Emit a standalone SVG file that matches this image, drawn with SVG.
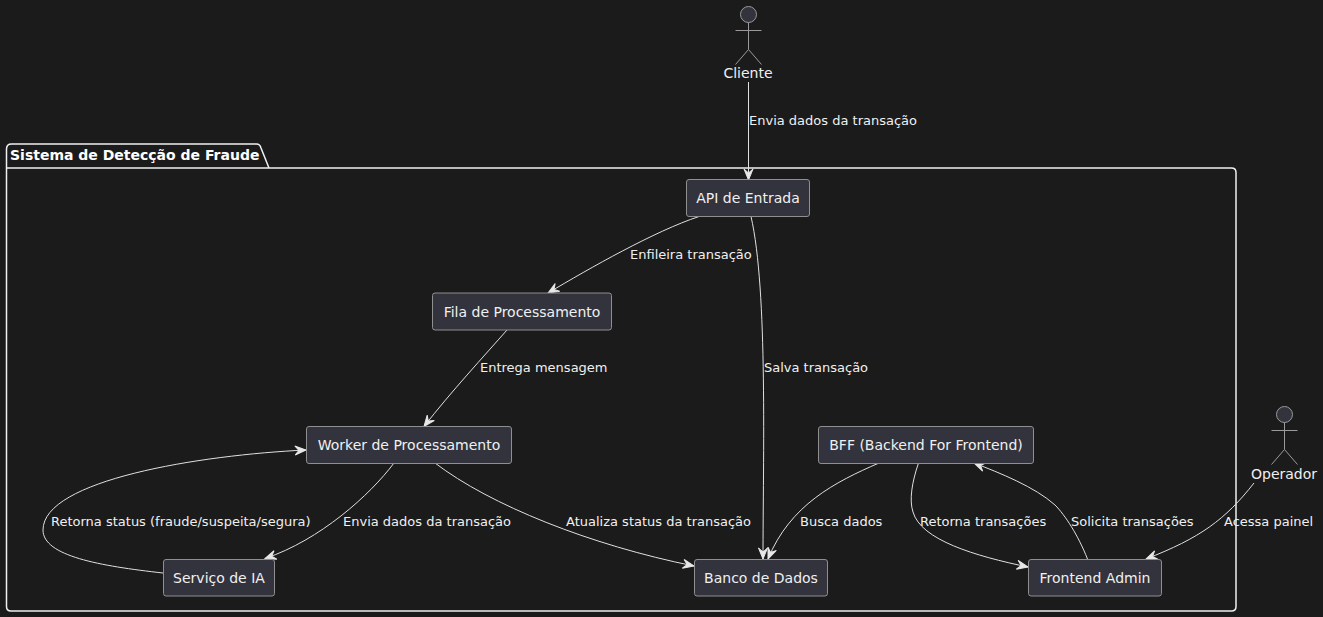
<svg xmlns="http://www.w3.org/2000/svg" width="1323" height="617" viewBox="0 0 1323 617">
<style>
text{font-family:"DejaVu Sans",sans-serif;fill:#f0f0f0}
.n{font-size:14px;text-anchor:middle}
.l{font-size:13px}
.box{fill:#33333d;stroke:#8f8f8f;stroke-width:1}
.act{fill:none;stroke:#9a9a9a;stroke-width:1}
.c{fill:none;stroke:#e0e0e0;stroke-width:1;marker-end:url(#h)}
.p{fill:none;stroke:#f0f0f0;stroke-width:1.5}
</style>
<defs>
<marker id="h" markerUnits="userSpaceOnUse" markerWidth="12" markerHeight="12" refX="11" refY="6" orient="auto" overflow="visible">
<path d="M0,1.5 L11,6 L0,10.5 L4,6 Z" fill="#e8e8e8" stroke="#e8e8e8" stroke-width="1"/>
</marker>
</defs>
<rect width="1323" height="617" fill="#1b1b1b"/>
<g id="pkg">
<path class="p" d="M6.5,168 V149 Q6.5,144 11.5,144 H256.5 Q260,144 261,148 L269,168 M6.5,168 H1231.5 Q1236,168 1236,172.5 V606.5 Q1236,611 1231.5,611 H11 Q6.5,611 6.5,606.5 V168"/>
<text x="10" y="160" style="font-size:14px;font-weight:bold;fill:#ffffff">Sistema de Detecção de Fraude</text>
</g>
<g id="connectors">
<path class="c" d="M748.5,82 V180"/>
<path class="c" d="M699,216.5 C655,231 590,268 548,293"/>
<path class="c" d="M751,216.5 C768,290 763,460 763,559"/>
<path class="c" d="M507,330 C485,355 450,393 424,426.5"/>
<path class="c" d="M394,463 C370,495 320,540 265,558.5"/>
<path class="c" d="M163,573 C100,566 43,556 43,530 C43,480 200,455 306,450"/>
<path class="c" d="M435,463 C490,505 590,545 694,566"/>
<path class="c" d="M879,463 C835,482 790,505 768,559"/>
<path class="c" d="M918.5,463 C912,482 909,500 913,512 C921,540 975,556 1028,567"/>
<path class="c" d="M1087.5,559 C1078,535 1065,515 1055,505 C1035,487 1000,473 974,463"/>
<path class="c" d="M1254,483 C1225,520 1200,538 1146,559"/>
</g>
<g id="cliente">
<circle cx="748.5" cy="14.5" r="8" class="act" style="fill:#33333d"/>
<path class="act" d="M748.5,22.5 V49.5 M735.5,30.5 H761.5 M735.5,64.5 L748.5,49.5 L761.5,64.5"/>
<text class="n" x="748" y="78">Cliente</text>
</g>
<g id="operador">
<circle cx="1284.5" cy="414.5" r="8" class="act" style="fill:#33333d"/>
<path class="act" d="M1284.5,422.5 V449.5 M1271.5,430.5 H1297.5 M1271.5,464.5 L1284.5,449.5 L1297.5,464.5"/>
<text class="n" x="1284" y="479">Operador</text>
</g>
<g id="api"><rect class="box" x="686.5" y="179.5" width="123" height="37" rx="2.5"/><text class="n" x="748" y="203">API de Entrada</text></g>
<g id="fila"><rect class="box" x="432.5" y="293" width="179" height="37" rx="2.5"/><text class="n" x="522" y="316.5">Fila de Processamento</text></g>
<g id="worker"><rect class="box" x="306.5" y="426.5" width="205" height="37" rx="2.5"/><text class="n" x="409" y="449.5">Worker de Processamento</text></g>
<g id="bff"><rect class="box" x="818.5" y="426.5" width="215" height="37" rx="2.5"/><text class="n" x="926" y="449.5">BFF (Backend For Frontend)</text></g>
<g id="ia"><rect class="box" x="163.5" y="559.5" width="111" height="36.5" rx="2.5"/><text class="n" x="219" y="583">Serviço de IA</text></g>
<g id="banco"><rect class="box" x="694.5" y="559.5" width="133" height="36.5" rx="2.5"/><text class="n" x="761" y="583">Banco de Dados</text></g>
<g id="frontend"><rect class="box" x="1028.5" y="559.5" width="133" height="36.5" rx="2.5"/><text class="n" x="1095" y="583">Frontend Admin</text></g>
<g id="labels">
<text class="l" x="749" y="125">Envia dados da transação</text>
<text class="l" x="630" y="259">Enfileira transação</text>
<text class="l" x="764" y="372">Salva transação</text>
<text class="l" x="480" y="372">Entrega mensagem</text>
<text class="l" x="51" y="526">Retorna status (fraude/suspeita/segura)</text>
<text class="l" x="343" y="526">Envia dados da transação</text>
<text class="l" x="566" y="526">Atualiza status da transação</text>
<text class="l" x="800" y="526">Busca dados</text>
<text class="l" x="920" y="526">Retorna transações</text>
<text class="l" x="1071" y="526">Solicita transações</text>
<text class="l" x="1224" y="526">Acessa painel</text>
</g>
</svg>
